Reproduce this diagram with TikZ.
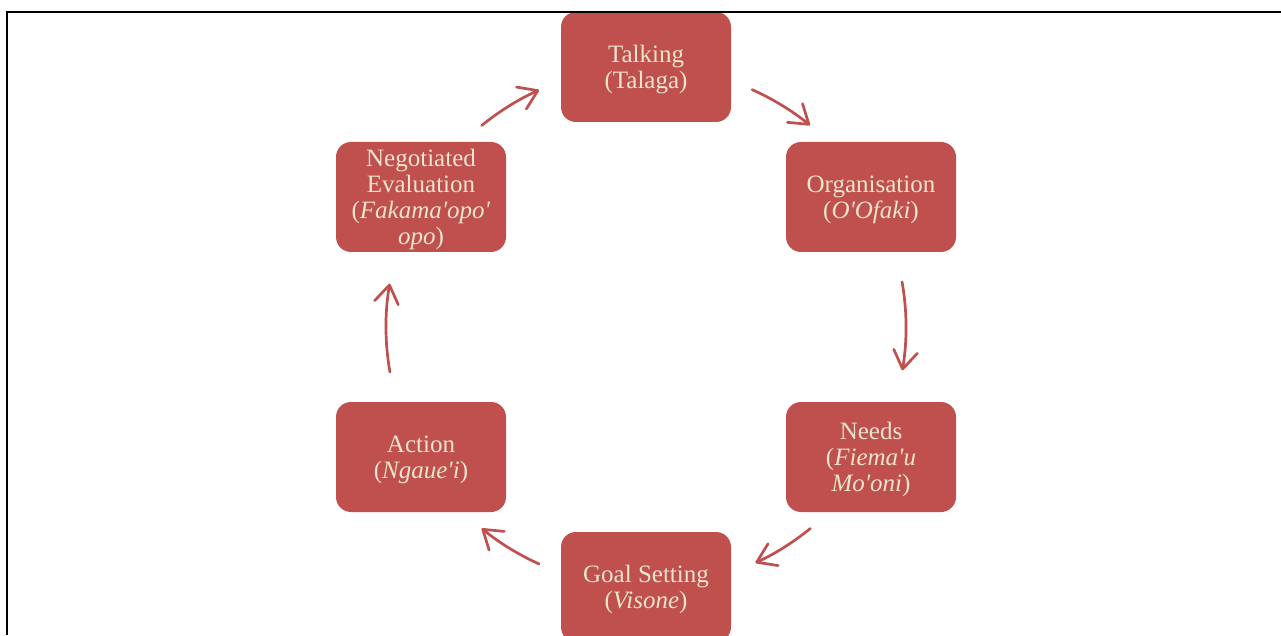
\documentclass[tikz,border=0pt]{standalone}
\usepackage{fontspec}
\setmainfont{Liberation Serif}[Ligatures=TeXOff]
\usetikzlibrary{arrows.meta,calc}
\definecolor{boxred}{HTML}{C0504D}
\definecolor{boxtext}{HTML}{E9E5CD}
\tikzset{
  stagebox/.style={draw=none, fill=boxred, rounded corners=15pt,
    minimum width=170pt, minimum height=110pt, inner sep=0pt},
  stagetext/.style={text=boxtext, inner sep=0pt, align=center,
    font=\fontsize{25}{26}\selectfont},
  cyclearrow/.style={draw=boxred, line width=2.7pt, line cap=round,
    -{Straight Barb[length=18pt, width=24pt, line width=2.7pt, round]}},
}
\begin{document}
\begin{tikzpicture}[x=1pt,y=1pt]
\useasboundingbox (0,0) rectangle (1281,635);
\coordinate (C) at (646,308);
\node[stagebox] (talk) at (646,568) {};
\node[stagebox] (org) at (871,438) {};
\node[stagebox] (needs) at (871,178) {};
\node[stagebox] (goal) at (646,48) {};
\node[stagebox] (act) at (421,178) {};
\node[stagebox] (neg) at (421,438) {};
\node[stagetext] (talkt) at ($(talk)+(0,-2.5)$) {Talking\\(Talaga)};
\node[stagetext] (orgt) at ($(org)+(0,-2.5)$) {Organisation\\(\textit{O'Ofaki})};
\node[stagetext] (needst) at ($(needs)+(0,-2.5)$) {Needs\\(\textit{Fiema'u}\\\textit{Mo'oni})};
\node[stagetext] (goalt) at ($(goal)+(0,-2.5)$) {Goal Setting\\(\textit{Visone})};
\node[stagetext] (actt) at ($(act)+(0,-2.5)$) {Action\\(\textit{Ngaue'i})};
\node[stagetext] (negt) at ($(neg)+(0,-2.5)$) {Negotiated\\Evaluation\\(\textit{Fakama'opo'}\\\textit{opo})};
% frame
\draw[line width=2pt, black] (7,0) -- (7,623) -- (1281,623);
% arrows
\coordinate (s1) at ($(C)+(65.9:260pt)$);
\coordinate (s2) at ($(C)+(10:260pt)$);
\coordinate (s3) at ($(C)+(-50.8:260pt)$);
\coordinate (s4) at ($(C)+(-114.3:260pt)$);
\coordinate (s5) at ($(C)+(190:260pt)$);
\coordinate (s6) at ($(C)+(129.2:260pt)$);
\draw[cyclearrow] (s1) arc[start angle=65.9, end angle=50.9, radius=260pt];
\draw[cyclearrow] (s2) arc[start angle=10, end angle=-9.6, radius=260pt];
\draw[cyclearrow] (s3) arc[start angle=-50.8, end angle=-65.1, radius=260pt];
\draw[cyclearrow] (s4) arc[start angle=-114.3, end angle=-129.2, radius=260pt];
\draw[cyclearrow] (s5) arc[start angle=190, end angle=170.4, radius=260pt];
\draw[cyclearrow] (s6) arc[start angle=129.2, end angle=114.3, radius=260pt];
\end{tikzpicture}
\end{document}
